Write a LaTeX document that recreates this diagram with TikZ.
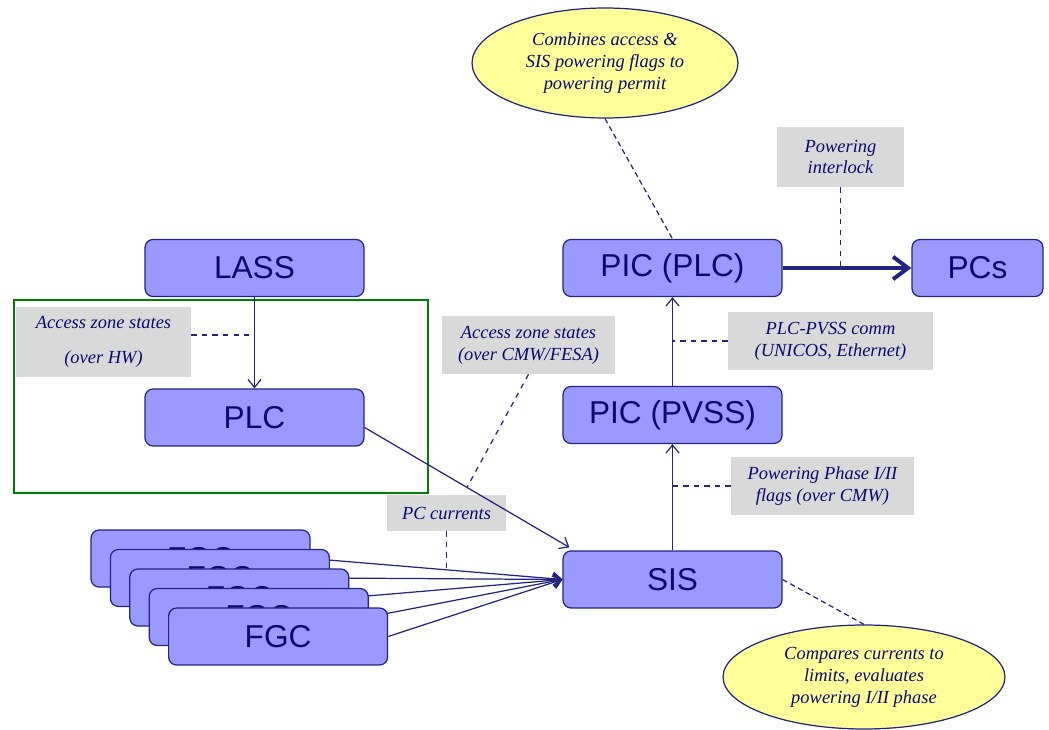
\documentclass[tikz,border=0pt]{standalone}
\usepackage{fontspec}
\setmainfont{Liberation Serif}
\setsansfont{Liberation Sans}
\usetikzlibrary{shapes.geometric,arrows.meta,backgrounds}
\definecolor{boxblue}{RGB}{153,153,255}
\definecolor{navyline}{RGB}{35,35,130}
\definecolor{navytext}{RGB}{10,10,110}
\definecolor{notegray}{RGB}{217,217,217}
\definecolor{noteyellow}{RGB}{255,255,153}
\definecolor{zonegreen}{RGB}{0,128,0}

\begin{document}
\begin{tikzpicture}[x=0.02cm,y=-0.02cm,
  sysbox/.style={draw=navyline,fill=boxblue,rounded corners=0.16cm,line width=0.7pt,
    minimum width=4.38cm,minimum height=1.14cm,text=navytext,
    font=\sffamily\fontsize{18}{20}\selectfont},
  note/.style={fill=notegray,align=center,text=navytext,inner sep=0pt,
    font=\itshape\fontsize{10.5}{12.5}\selectfont},
  bubble/.style={ellipse,draw=navyline,fill=noteyellow,line width=0.7pt,align=center,
    text=navytext,inner sep=0pt,font=\itshape\fontsize{10.5}{12.5}\selectfont},
  flow/.style={draw=navyline,line width=0.7pt,-{Straight Barb[length=1.6mm,width=2.6mm]}},
  tag/.style={draw=navyline,line width=0.7pt,dashed}]
\useasboundingbox (0,0) rectangle (1049,730);

% access zone
\draw[zonegreen,line width=1.4pt] (14,300) rectangle (428,493);

% systems
\node[sysbox] (lass) at (254.5,268) {LASS};
\node[sysbox] (plc) at (254.5,417.5) {PLC};
\node[sysbox] (piclc) at (672.5,268) {PIC (PLC)};
\node[sysbox] (picpvss) at (672.5,415) {PIC (PVSS)};
\node[sysbox] (sis) at (672.5,579.5) {SIS};
\node[sysbox,minimum width=2.62cm] (pcs) at (977.5,268) {PCs};
\foreach \k in {0,...,4}
  \node[sysbox] (fgc\k) at ({200.5+19.4*\k},{558.5+19.5*\k}) {FGC};

% notes
\node[bubble,minimum width=5.32cm,minimum height=2.2cm] (combine) at (605,63)
  {Combines access \&\\SIS powering flags to\\powering permit};
\node[bubble,minimum width=5.64cm,minimum height=2.08cm] (compare) at (864,677)
  {Compares currents to\\limits, evaluates\\powering I/II phase};
\node[note,minimum width=2.54cm,minimum height=1.2cm] (pwrint) at (840.5,157) {Powering\\interlock};
\node[note,minimum width=3.5cm,minimum height=1.4cm] (hwlbl) at (103.5,342)
  {Access zone states\\[7pt](over HW)};
\node[note,minimum width=3.46cm,minimum height=1.16cm] (cmwlbl) at (528.5,345)
  {Access zone states\\(over CMW/FESA)};
\node[note,minimum width=2.38cm,minimum height=0.72cm] (pclbl) at (446.5,513) {PC currents};
\node[note,minimum width=4.1cm,minimum height=1.16cm] (commlbl) at (830.5,341)
  {PLC-PVSS comm\\(UNICOS, Ethernet)};
\node[note,minimum width=3.66cm,minimum height=1.16cm] (phaselbl) at (822.5,486)
  {Powering Phase I/II\\flags (over CMW)};

% connections
\draw[flow] (lass.south) -- (plc.north);
\draw[flow] ([yshift=-0.2cm]plc.east) -- coordinate[pos=0.5] (cmwhit)
  ([shift={(0.14cm,0.06cm)}]sis.north west);
\begin{scope}[on background layer]
\foreach \k in {0,...,4}
  \draw[flow] (fgc\k.east) -- (sis.west);
\end{scope}
\path (fgc0.east) -- coordinate[pos=0.545] (fgchit) (sis.west);
\draw[flow] (sis.north) -- (picpvss.south);
\draw[flow] (picpvss.north) -- (piclc.south);
\draw[navyline,line width=2.3pt,-{Straight Barb[length=3mm,width=4.5mm]}] (piclc.east) -- (pcs.west);

% label leaders
\draw[tag] ([yshift=0.14cm]hwlbl.east) -- ([yshift=0.14cm]hwlbl.east -| plc.north);
\draw[tag] (cmwlbl.south) -- (cmwhit);
\draw[tag] (pclbl.south) -- (pclbl.south |- fgchit);
\draw[tag] (phaselbl.west) -- (phaselbl.west -| sis.north);
\draw[tag] (commlbl.west) -- (commlbl.west -| piclc.south);
\draw[tag] (pwrint.south) -- (pwrint.south |- piclc.east);
\draw[tag,densely dashed] (combine.south) -- (piclc.north);
\draw[tag,densely dashed] (sis.east) -- (compare.north);
\end{tikzpicture}
\end{document}
